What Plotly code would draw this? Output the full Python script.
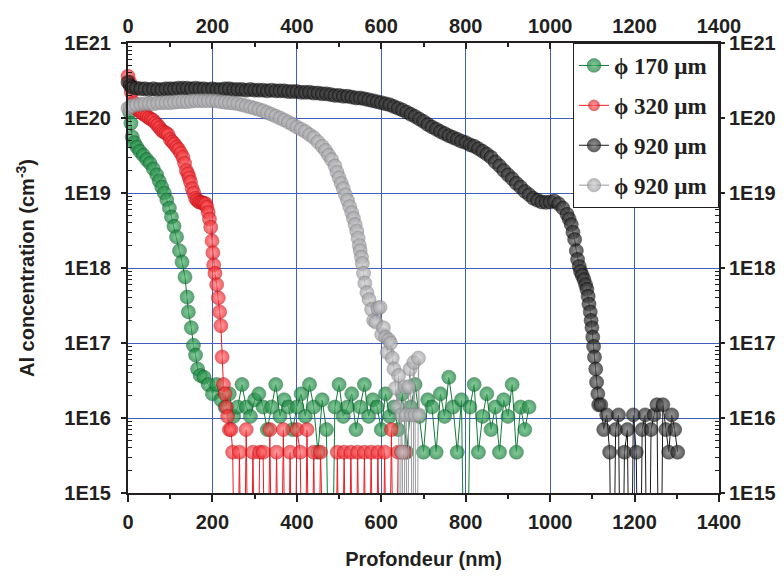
import plotly.graph_objects as go

# SIMS depth profiles: depth (nm) and Al concentration (cm^-3); 0 = below detection
green_depth = [4, 7, 10, 15, 21, 28, 36, 44, 52, 60, 68, 74, 80, 86, 92, 98, 103, 109, 115, 122, 128, 135,
               140, 143, 150, 155, 160, 165, 171,
               180, 190, 200, 210, 220, 230, 240, 250, 260, 270, 280, 290, 300, 310, 320, 330, 340, 350, 360,
               370, 380, 390, 400, 410, 420, 430, 440, 450, 460, 470, 480, 490, 500, 510, 520, 530, 540, 550,
               560, 570, 580, 590, 600, 610, 620, 630, 640, 650, 660, 670, 680, 690, 700, 710, 720, 730, 740,
               750, 760, 770, 780, 790, 800, 810, 820, 830, 840, 850, 860, 870, 880, 890, 900, 910, 920, 930,
               940, 950]
green_conc = [1.2e20, 8.5e19, 5.6e19, 4.7e19, 4.1e19, 3.6e19, 3.2e19, 2.8e19, 2.5e19, 2.1e19, 1.75e19,
              1.45e19, 1.2e19, 1.0e19, 8.1e18, 6.3e18, 4.8e18, 3.6e18, 2.6e18, 1.7e18, 1.2e18, 7.6e17,
              4.1e17, 2.6e17, 1.6e17, 9.3e16, 6.9e16, 4.5e16, 3.7e16,
              3.5e16, 2.8e16, 2.1e16, 2.8e16, 1.75e16, 1.4e16, 2.1e16, 1.05e16, 1.4e16, 2.8e16, 1.4e16, 1.05e16,
              1.75e16, 2.1e16, 1.4e16, 7e15, 1.4e16, 2.8e16, 1.05e16, 1.75e16, 1.4e16, 7e15, 1.4e16, 2.1e16,
              1.05e16, 2.8e16, 1.4e16, 3.5e15, 1.75e16, 7e15, 0, 1.4e16, 2.8e16, 1.05e16, 1.4e16, 2.1e16, 7e15,
              1.4e16, 2.8e16, 1.05e16, 1.75e16, 1.4e16, 7e15, 2.1e16, 1.05e16, 1.4e16, 7e15, 2.1e16, 3.5e15,
              1.4e16, 2.8e16, 1.05e16, 3.5e15, 1.75e16, 1.4e16, 3.5e15, 2.1e16, 1.05e16, 3.5e16, 1.4e16, 3.5e15,
              1.75e16, 0, 1.4e16, 2.8e16, 3.5e15, 1.05e16, 2.1e16, 7e15, 1.4e16, 3.5e15, 1.75e16, 1.05e16,
              2.8e16, 3.5e15, 1.4e16, 7e15, 1.4e16]

red_depth = [0, 4, 8, 14, 20, 25, 30, 35, 40, 45, 50, 55, 60, 65, 70, 75, 80, 85, 90, 95, 100, 105, 110, 115,
             120, 125, 130, 134, 138, 142, 145, 148, 152, 156, 160, 164, 168, 172, 176, 180, 184, 187, 190,
             193, 196, 199, 201, 203, 206, 210, 214, 217, 220, 223, 226, 230, 233, 236, 240, 244,
             248, 256, 264, 272, 280, 288, 296, 304, 312, 320, 328, 336, 344, 352, 360, 368, 376, 384, 392,
             400, 408, 416, 424, 432, 440, 448, 456, 464, 472, 480, 488, 496, 504, 512, 520, 528, 536, 544,
             552, 560, 568, 576, 584, 592, 600, 608, 616, 624, 632, 640, 648, 656]
red_conc = [3.6e20, 3.0e20, 2.2e20, 1.6e20, 1.35e20, 1.27e20, 1.2e20, 1.15e20, 1.1e20, 1.05e20, 1.0e20,
            9.6e19, 9.3e19, 8.6e19, 8.0e19, 7.4e19, 6.8e19, 6.5e19, 6.3e19, 6.0e19, 5.2e19, 4.8e19, 4.5e19,
            4.1e19, 3.8e19, 3.4e19, 3.0e19, 2.5e19, 2.0e19, 1.8e19, 1.6e19, 1.4e19, 1.15e19, 1.0e19, 8.5e18,
            8.0e18, 7.6e18, 7.5e18, 7.4e18, 7.3e18, 7.2e18, 6.5e18, 5.5e18, 4.5e18, 3.5e18, 2.3e18, 1.6e18,
            1.1e18, 8.5e17, 6e17, 4e17, 2.6e17, 1.7e17, 6.5e16, 2.8e16, 2.1e16, 1.4e16, 1.05e16, 7e15, 7e15,
            3.5e15, 0, 3.5e15, 0, 7e15, 0, 3.5e15, 0, 3.5e15, 3.5e15, 0, 7e15, 0, 3.5e15, 0, 7e15, 0, 3.5e15,
            0, 7e15, 3.5e15, 0, 7e15, 0, 3.5e15, 0, 3.5e15, 0, 0, 0, 0, 3.5e15, 0, 3.5e15, 0, 3.5e15, 0,
            3.5e15, 0, 3.5e15, 0, 3.5e15, 0, 3.5e15, 0, 3.5e15, 0, 7e15, 0, 3.5e15, 3.5e15, 3.5e15]

black_depth = [0, 5, 10, 20, 30, 40, 50, 60, 70, 80, 90, 100, 110, 120, 130, 140, 150, 160, 170, 180, 190,
               200, 210, 220, 230, 240, 250, 260, 270, 280, 290, 300, 310, 320, 330, 340, 350, 360, 370, 380,
               390, 400, 410, 420, 430, 440, 450, 460, 470, 480, 490, 500, 510, 520, 530, 540, 550, 560, 570,
               580, 590, 600, 610, 620, 630, 640, 650, 660, 670, 680, 690, 700, 710, 720, 730, 740, 750, 760,
               770, 780, 790, 800, 810, 820, 830, 840, 850, 860, 870, 880, 890, 900, 910, 920, 930, 940, 950,
               960, 970, 980, 990, 1000, 1010, 1020, 1030, 1040, 1045, 1050, 1054, 1058, 1062, 1065, 1069,
               1072, 1076, 1080, 1084, 1087, 1090, 1092, 1095, 1097, 1099, 1101, 1103, 1105, 1108, 1110, 1113,
               1115,
               1120, 1127, 1134, 1141, 1148, 1155, 1162, 1169, 1176, 1183, 1190, 1197, 1204, 1211, 1218, 1225,
               1232, 1239, 1246, 1253, 1260, 1267, 1274, 1281, 1288, 1295, 1302]
black_conc = [3.0e20, 2.7e20, 2.55e20, 2.5e20, 2.45e20, 2.45e20, 2.4e20, 2.45e20, 2.4e20, 2.4e20, 2.45e20,
              2.45e20, 2.45e20, 2.5e20, 2.5e20, 2.5e20, 2.45e20, 2.5e20, 2.45e20, 2.45e20, 2.4e20, 2.45e20,
              2.4e20, 2.4e20, 2.45e20, 2.45e20, 2.4e20, 2.4e20, 2.4e20, 2.35e20, 2.4e20, 2.35e20, 2.35e20,
              2.35e20, 2.3e20, 2.35e20, 2.3e20, 2.3e20, 2.3e20, 2.25e20, 2.25e20, 2.25e20, 2.2e20, 2.2e20,
              2.2e20, 2.15e20, 2.15e20, 2.1e20, 2.1e20, 2.05e20, 2.0e20, 2.0e20, 1.95e20, 1.95e20, 1.9e20,
              1.85e20, 1.85e20, 1.8e20, 1.75e20, 1.7e20, 1.65e20, 1.6e20, 1.55e20, 1.5e20, 1.42e20, 1.35e20,
              1.28e20, 1.2e20, 1.12e20, 1.05e20, 9.7e19, 9.0e19, 8.2e19, 7.6e19, 7.1e19, 6.6e19, 6.2e19,
              5.8e19, 5.5e19, 5.2e19, 4.9e19, 4.7e19, 4.4e19, 4.2e19, 3.9e19, 3.6e19, 3.3e19, 3.0e19, 2.6e19,
              2.3e19, 2.0e19, 1.75e19, 1.55e19, 1.35e19, 1.2e19, 1.05e19, 9.5e18, 8.5e18, 8.0e18, 7.6e18,
              7.5e18, 7.6e18, 7.8e18, 7.2e18, 6.3e18, 5.2e18, 4.5e18, 3.8e18, 3.0e18, 2.4e18, 1.7e18, 1.3e18,
              1.05e18, 9e17, 8e17, 7e17, 6e17, 5.2e17, 4.2e17, 3.3e17, 2.6e17, 2.0e17, 1.6e17, 1.2e17, 9e16,
              6.5e16, 4.5e16, 3.0e16, 2.1e16, 1.5e16,
              1.5e16, 7e15, 1.1e16, 3.5e15, 0, 7e15, 1.1e16, 0, 3.5e15, 7e15, 0, 1.1e16, 3.5e15, 0, 7e15,
              1.1e16, 0, 7e15, 1.1e16, 1.5e16, 0, 1.5e16, 7e15, 3.5e15, 1.1e16, 7e15, 3.5e15]

gray_depth = [0, 5, 10, 20, 30, 40, 50, 60, 70, 80, 90, 100, 110, 120, 130, 140, 150, 160, 170, 180, 190, 200,
              210, 220, 230, 240, 250, 260, 270, 280, 290, 300, 310, 320, 330, 340, 350, 360, 370, 380, 390,
              400, 410, 420, 430, 440, 450, 460, 468, 475, 482, 490, 495, 500, 505, 510, 515, 520, 525, 530,
              534, 538, 542, 545, 548, 550, 553, 555, 558,
              561, 566, 571, 577, 582, 587, 592, 597, 601, 605, 610, 614, 618, 622, 626, 630, 634, 638, 641,
              644, 647, 650, 653, 656, 659, 662, 665, 668, 671, 674, 677, 680, 684, 688, 690]
gray_conc = [1.35e20, 1.4e20, 1.45e20, 1.5e20, 1.52e20, 1.55e20, 1.55e20, 1.55e20, 1.58e20, 1.6e20, 1.6e20,
             1.6e20, 1.62e20, 1.65e20, 1.65e20, 1.65e20, 1.68e20, 1.7e20, 1.7e20, 1.7e20, 1.7e20, 1.7e20,
             1.68e20, 1.65e20, 1.62e20, 1.6e20, 1.58e20, 1.55e20, 1.5e20, 1.45e20, 1.4e20, 1.35e20, 1.3e20,
             1.25e20, 1.18e20, 1.12e20, 1.06e20, 1.0e20, 9.4e19, 8.8e19, 8.2e19, 7.6e19, 7.1e19, 6.6e19,
             6.0e19, 5.5e19, 4.8e19, 4.2e19, 3.7e19, 3.2e19, 2.8e19, 2.3e19, 1.9e19, 1.6e19, 1.35e19, 1.15e19,
             9.5e18, 8e18, 6.6e18, 5.5e18, 4.6e18, 3.8e18, 3.1e18, 2.5e18, 2.0e18, 1.7e18, 1.4e18, 1.15e18,
             8.5e17,
             6.3e17, 4.7e17, 3.8e17, 2.8e17, 2.0e17, 1.9e17, 2.9e17, 3.0e17, 1.3e17, 1.6e17, 1.2e17, 7.5e16,
             1.1e17, 1.0e17, 6.3e16, 4.5e16, 2.5e16, 1.4e16, 3.7e16, 0, 1.1e16, 3.5e15, 0, 2.6e16, 1.1e16, 0,
             2.6e16, 4.5e16, 1.1e16, 0, 5.5e16, 1.1e16, 0, 6.3e16, 1.1e16]

decades = [1e15, 1e16, 1e17, 1e18, 1e19, 1e20, 1e21]
decade_labels = ["1E15", "1E16", "1E17", "1E18", "1E19", "1E20", "1E21"]
depth_ticks = [0, 200, 400, 600, 800, 1000, 1200, 1400]
depth_minor = [100, 300, 500, 700, 900, 1100, 1300]

FLOOR = 1e12  # where "below detection" points fall (off the axis)
AXIS_FONT = dict(family="Liberation Sans, Arial", size=20, color="#231f20", weight="bold")
GRID = "#3f5fb8"
INK = "#231f20"


def profile(name, depth, conc, color, light, edge):
    y = [c if c > 0 else FLOOR for c in conc]
    sizes = [14 if c > 0 else 0 for c in conc]
    return go.Scatter(
        x=depth, y=y, name=name, mode="lines+markers", legendgroup=name,
        line=dict(color=color, width=1),
        marker=dict(size=sizes, color=color, gradient=dict(type="radial", color=light),
                    line=dict(width=0.6, color=edge)),
        cliponaxis=False,
    )


fig = go.Figure()
fig.add_trace(profile("ϕ 170 µm", green_depth, green_conc, "#0f7d36", "#58b774", "#0a5626"))
fig.add_trace(profile("ϕ 320 µm", red_depth, red_conc, "#ec1c24", "#ff7a7a", "#a81016"))
fig.add_trace(profile("ϕ 920 µm", black_depth, black_conc, "#1b1b1b", "#6e6e6e", "#000000"))
fig.add_trace(profile("ϕ 920 µm ", gray_depth, gray_conc, "#9a9a9e", "#d4d4d6", "#7a7a7e"))
# empty trace so the mirrored top/right axes get drawn
fig.add_trace(go.Scatter(x=[], y=[], xaxis="x2", yaxis="y2", showlegend=False, hoverinfo="skip"))

minor_y = [m * d for d in decades[:-1] for m in range(2, 10)]

# the page body has an 8px margin: size the figure so the page never overflows the window
fig.update_layout(
    width=768, height=563,
    margin=dict(l=120, r=57, t=35, b=78),
    paper_bgcolor="white", plot_bgcolor="white",
    showlegend=True,
    legend=dict(x=1, y=1, xanchor="right", yanchor="top", bgcolor="white",
                bordercolor=INK, borderwidth=1, tracegroupgap=7,
                font=dict(family="Liberation Serif, Times New Roman", size=23, color=INK, weight="bold")),
    xaxis=dict(range=[0, 1400], tickvals=depth_ticks, ticks="outside", ticklen=7, tickwidth=1.5,
               tickcolor=INK, minor=dict(tickvals=depth_minor, ticks="outside", ticklen=4, tickwidth=1.5,
                                         tickcolor=INK, showgrid=False),
               showgrid=True, gridcolor=GRID, gridwidth=1, zeroline=False, automargin=False,
               showline=True, linewidth=2, linecolor=INK, tickfont=AXIS_FONT, ticklabelstandoff=3,
               title=dict(text="Profondeur (nm)", font=AXIS_FONT, standoff=20)),
    xaxis2=dict(range=[0, 1400], overlaying="x", side="top", anchor="y2", tickvals=depth_ticks,
                ticks="inside", ticklen=6, tickwidth=1.5, tickcolor=INK,
                minor=dict(tickvals=depth_minor, ticks="inside", ticklen=4, tickwidth=1.5, tickcolor=INK),
                showgrid=False, zeroline=False, showline=True, linewidth=2, linecolor=INK,
                automargin=False, tickfont=AXIS_FONT),
    yaxis=dict(type="log", range=[15, 21], tickvals=decades, ticktext=decade_labels, ticks="outside",
               ticklen=5, tickwidth=1.5, tickcolor=INK,
               minor=dict(tickvals=minor_y, ticks="inside", ticklen=4, tickwidth=1, tickcolor=INK,
                          showgrid=False),
               showgrid=True, gridcolor=GRID, gridwidth=1, zeroline=False, automargin=False,
               showline=True, linewidth=2, linecolor=INK, tickfont=AXIS_FONT, ticklabelstandoff=6,
               title=dict(text="Al concentration (cm<sup>-3</sup>)", font=AXIS_FONT, standoff=24)),
    yaxis2=dict(type="log", range=[15, 21], overlaying="y", side="right", anchor="x2", tickvals=decades,
                ticktext=decade_labels, ticks="outside", ticklen=4, tickwidth=1.5, tickcolor=INK,
                minor=dict(tickvals=minor_y, ticks="inside", ticklen=4, tickwidth=1, tickcolor=INK),
                showgrid=False, zeroline=False, showline=True, linewidth=2, linecolor=INK,
                automargin=False, tickfont=AXIS_FONT),
)

fig.write_html("out.html")
